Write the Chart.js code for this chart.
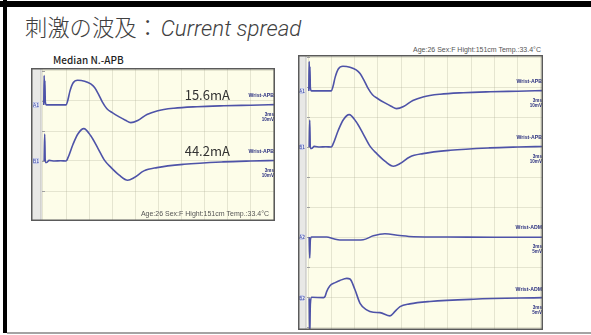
<!DOCTYPE html>
<html lang="ja">
<head>
<meta charset="utf-8">
<title>刺激の波及：Current spread</title>
<script src="https://cdn.jsdelivr.net/npm/chart.js@4.4.1/dist/chart.umd.min.js"></script>
<style>
  html, body { margin: 0; padding: 0; background: #fff; }
  #slide { position: relative; width: 591px; height: 335px; overflow: hidden; background: #fff; }
  .bar { position: absolute; background: #000; }
  #topbar { left: 0; top: 1px; width: 591px; height: 6px; }
  #leftbar { left: 3px; top: 0; width: 4px; height: 333px; }
  #bottomline { position: absolute; left: 7px; top: 332px; width: 584px; height: 2px; background: #a4a4a4; }
  #title { position: absolute; left: 25px; top: 15px; font-family: "Noto Sans CJK JP", sans-serif; font-weight: 300;
           font-size: 22.3px; line-height: 1; color: #404040; white-space: nowrap; }
  #title em { font-family: "Roboto", "Noto Sans", sans-serif; font-weight: 300; font-style: italic; font-size: 22.3px;
              margin-left: 2px; }
  #caption { position: absolute; left: 53px; top: 55px; font-family: "Noto Sans CJK JP", sans-serif; font-weight: 500;
             font-size: 10px; line-height: 1; color: #1e1e1e; white-space: nowrap; }
  .info { position: absolute; font-family: "Liberation Sans", sans-serif; font-size: 7px; line-height: 1; color: #555;
          white-space: nowrap; }
  #infoR { left: 413px; top: 46px; }
  .panel { position: absolute; }
  #panelL { left: 31px; top: 68px; width: 244px; height: 153px; }
  #panelR { left: 298px; top: 55px; width: 245px; height: 275px; }
  .panel canvas { display: block; }
</style>
</head>
<body>
<div id="slide">
  <div id="topbar" class="bar"></div>
  <div id="leftbar" class="bar"></div>
  <div id="bottomline"></div>
  <div id="title">刺激の波及：<em>Current spread</em></div>
  <div id="caption">Median N.-APB</div>
  <div id="infoR" class="info">Age:26 Sex:F Hight:151cm Temp.:33.4°C</div>
  <div id="panelL" class="panel"><canvas id="chartL" width="244" height="153"></canvas></div>
  <div id="panelR" class="panel"><canvas id="chartR" width="245" height="275"></canvas></div>
</div>
<script>
// Recordings, time in ms after the stimulus, amplitude in mV.
// A1 / B1: wrist stimulation, recording APB (15.6 mA and 44.2 mA).
const timeA1 = [0.1, 0.15, 0.2, 0.25, 0.3, 0.45, 1.5, 3.0, 3.2, 3.5, 3.9, 4.5, 5.4, 6.2, 6.7, 7.2, 7.7, 8.3, 9.0, 9.9, 10.7, 11.4, 12.3, 13.5, 14.8, 17.0, 20.0, 23.5, 27.0, 30.4];
const ampA1  = [0, 9.8, 4.0, 8.0, 1.0, 0, 0, 0, 1.3, 4.6, 7.3, 8.2, 7.9, 7.0, 5.8, 3.6, 1.0, -1.3, -2.6, -4.0, -5.1, -5.9, -5.2, -3.2, -2.0, -1.1, -0.6, -0.3, -0.1, 0.1];

const timeB1 = [0.15, 0.22, 0.3, 0.45, 0.8, 1.5, 2.3, 3.0, 3.25, 3.9, 4.55, 5.3, 6.2, 7.1, 8.0, 8.85, 9.9, 11.0, 11.8, 13.1, 14.8, 18.3, 23.4, 27.0, 30.4];
const ampB1  = [0, 9.0, -0.5, -0.5, 0.2, 0, 0.1, 0, 1.1, 5.6, 9.1, 10.8, 8.4, 4.4, 0.2, -2.2, -4.7, -6.4, -5.6, -3.3, -2.2, -1.1, -0.3, 0.0, 0.2];

// A2 / B2: wrist stimulation, recording ADM (current spread to the ulnar nerve).
const timeA2 = [0.15, 0.22, 0.3, 0.45, 2.4, 3.3, 4.1, 5.5, 7.1, 8.4, 9.9, 11.8, 13.6, 18.0, 24.0, 30.4];
const ampA2  = [0, -3.5, -0.5, 0, 0, -0.3, -0.5, -0.5, -0.45, 0.2, 0.55, 0.25, 0.05, 0, -0.05, -0.05];

const timeB2 = [0.15, 0.22, 0.3, 0.45, 2.0, 2.2, 2.4, 2.8, 3.5, 4.1, 5.0, 5.4, 6.05, 6.7, 7.55, 8.4, 9.27, 10.55, 11.2, 11.85, 13.1, 15.7, 21.3, 30.4];
const ampB2  = [0, -6.5, -1.0, 0.15, 0.1, 0.3, 1.1, 2.05, 2.6, 2.95, 3.3, 3.2, 1.4, -0.85, -1.95, -2.35, -2.4, -2.95, -2.2, -1.4, -0.95, -0.55, -0.17, 0.1];

// Trace labels and display settings (sweep 3 ms/div, sensitivity in mV/div).
const traceNames = ['A1', 'B1', 'A2', 'B2'];
const sites      = ['Wrist-APB', 'Wrist-APB', 'Wrist-ADM', 'Wrist-ADM'];
const sweepLabel = '3ms';
const sensitivity = [10, 10, 5, 5];
const sensLabels  = ['10mV', '10mV', '5mV', '5mV'];
const stimLabels  = ['15.6mA', '44.2mA'];
const patientInfo = 'Age:26 Sex:F Hight:151cm Temp.:33.4°C';

// Screen layout: baseline of each trace, in vertical divisions.
const baselineDiv = [7.87, 6.0, 3.0, 0.96];

const times = [timeA1, timeB1, timeA2, timeB2];
const amps  = [ampA1, ampB1, ampA2, ampB2];

const TRACE_COLOR = '#4e53a8';
const LABEL_COLOR = '#2b3080';
const GRID_COLOR  = 'rgba(170,170,145,0.28)';

function traceData(i) {
  return times[i].map((t, k) => ({ x: t, y: baselineDiv[i] + amps[i][k] / sensitivity[i] }));
}

function rangeTicks(lo, hi, step) {
  const out = [];
  for (let v = Math.ceil(lo / step) * step; v <= hi + 1e-9; v += step) out.push({ value: +v.toFixed(6) });
  return out;
}

// Plugin drawing the EMG screen decorations (background, label strip, annotations).
const emgScreen = {
  id: 'emgScreen',
  beforeDraw(chart) {
    const { ctx, width, height } = chart;
    ctx.save();
    ctx.fillStyle = '#fdfde9';
    ctx.fillRect(0, 0, width, height);
    ctx.restore();
  },
  beforeDatasetsDraw(chart, args, opts) {
    const { ctx, height, scales: { x, y } } = chart;
    const x0 = Math.round(x.getPixelForValue(0));
    ctx.save();
    ctx.fillStyle = '#e8e8e6';
    ctx.fillRect(0, 0, x0 - 1, height);
    ctx.fillStyle = '#d2d2cf';
    ctx.fillRect(x0 - 3, 0, 1.5, height);
    // small division marks on the strip
    ctx.strokeStyle = '#a0a0a0';
    ctx.lineWidth = 1;
    y.ticks.forEach(t => {
      const py = Math.round(y.getPixelForValue(t.value)) + 0.5;
      ctx.beginPath(); ctx.moveTo(x0 - 1, py); ctx.lineTo(x0 + 2, py); ctx.stroke();
    });
    // trace name boxes
    ctx.font = '5px "Liberation Sans", sans-serif';
    ctx.textAlign = 'center';
    ctx.textBaseline = 'middle';
    opts.traces.forEach(i => {
      const py = y.getPixelForValue(baselineDiv[i]);
      const bx = 2, bw = x0 - 6, bh = 6;
      ctx.fillStyle = '#eef0fb';
      ctx.fillRect(bx, py - bh / 2, bw, bh);
      ctx.strokeStyle = '#a9b1dc';
      ctx.lineWidth = 0.6;
      ctx.strokeRect(bx + 0.5, py - bh / 2 + 0.5, bw - 1, bh - 1);
      ctx.fillStyle = '#3b48a6';
      ctx.fillText(traceNames[i], bx + bw / 2, py + 0.3);
    });
    ctx.restore();
  },
  afterDraw(chart, args, opts) {
    const { ctx, width, height, scales: { x, y } } = chart;
    ctx.save();
    ctx.textAlign = 'right';
    ctx.textBaseline = 'middle';
    opts.traces.forEach((i, k) => {
      const py = y.getPixelForValue(baselineDiv[i]);
      ctx.fillStyle = LABEL_COLOR;
      ctx.font = 'bold 5.2px "Liberation Sans", sans-serif';
      ctx.fillText(sites[i], width - 1, py - 9);
      ctx.font = 'bold 4.6px "Liberation Sans", sans-serif';
      ctx.fillText(sweepLabel, width - 1, py + 10);
      ctx.fillText(sensLabels[i], width - 1, py + 15);
      if (opts.stimulus) {
        ctx.fillStyle = '#333';
        ctx.font = '13px "Noto Sans CJK JP", sans-serif';
        ctx.textAlign = 'left';
        ctx.fillText(stimLabels[k], x.getPixelForValue(18.4), py - 10);
        ctx.textAlign = 'right';
      }
    });
    if (opts.info) {
      ctx.fillStyle = '#555';
      ctx.font = '7px "Liberation Sans", sans-serif';
      ctx.textAlign = 'right';
      ctx.textBaseline = 'alphabetic';
      ctx.fillText(patientInfo, width - 6, height - 5);
    }
    // screen frame
    ctx.strokeStyle = '#5a5a5a';
    ctx.lineWidth = 1.5;
    ctx.strokeRect(0.75, 0.75, width - 1.5, height - 1.5);
    ctx.restore();
  }
};

function makeScreen(canvasId, traces, xMin, xMax, yMin, yMax, extra) {
  return new Chart(document.getElementById(canvasId), {
    type: 'scatter',
    data: {
      datasets: traces.map(i => ({
        label: traceNames[i],
        data: traceData(i),
        showLine: true,
        borderColor: TRACE_COLOR,
        borderWidth: 1.6,
        pointRadius: 0,
        cubicInterpolationMode: 'monotone',
        fill: false
      }))
    },
    options: {
      responsive: false,
      animation: false,
      devicePixelRatio: 1,
      layout: { padding: 0 },
      plugins: {
        legend: { display: false },
        tooltip: { enabled: false },
        title: { display: false },
        emgScreen: Object.assign({ traces }, extra)
      },
      scales: {
        x: {
          type: 'linear', min: xMin, max: xMax,
          afterBuildTicks: s => { s.ticks = rangeTicks(0, 30, 3); },
          ticks: { display: false },
          border: { display: false },
          grid: { color: GRID_COLOR, lineWidth: 1, drawTicks: false, borderDash: [1, 2] }
        },
        y: {
          type: 'linear', min: yMin, max: yMax,
          afterBuildTicks: s => { s.ticks = rangeTicks(yMin, yMax, 1); },
          ticks: { display: false },
          border: { display: false },
          grid: { color: GRID_COLOR, lineWidth: 1, drawTicks: false, borderDash: [1, 2] }
        }
      }
    },
    plugins: [emgScreen]
  });
}

// Upper part of the screen (first two sweeps), and the full four-sweep screen.
makeScreen('chartL', [0, 1], -1.558, 30.13, 4.0, 9.1, { stimulus: true, info: true });
makeScreen('chartR', [0, 1, 2, 3], -1.29, 30.26, -0.1, 9.067, { stimulus: false, info: false });
</script>
</body>
</html>
